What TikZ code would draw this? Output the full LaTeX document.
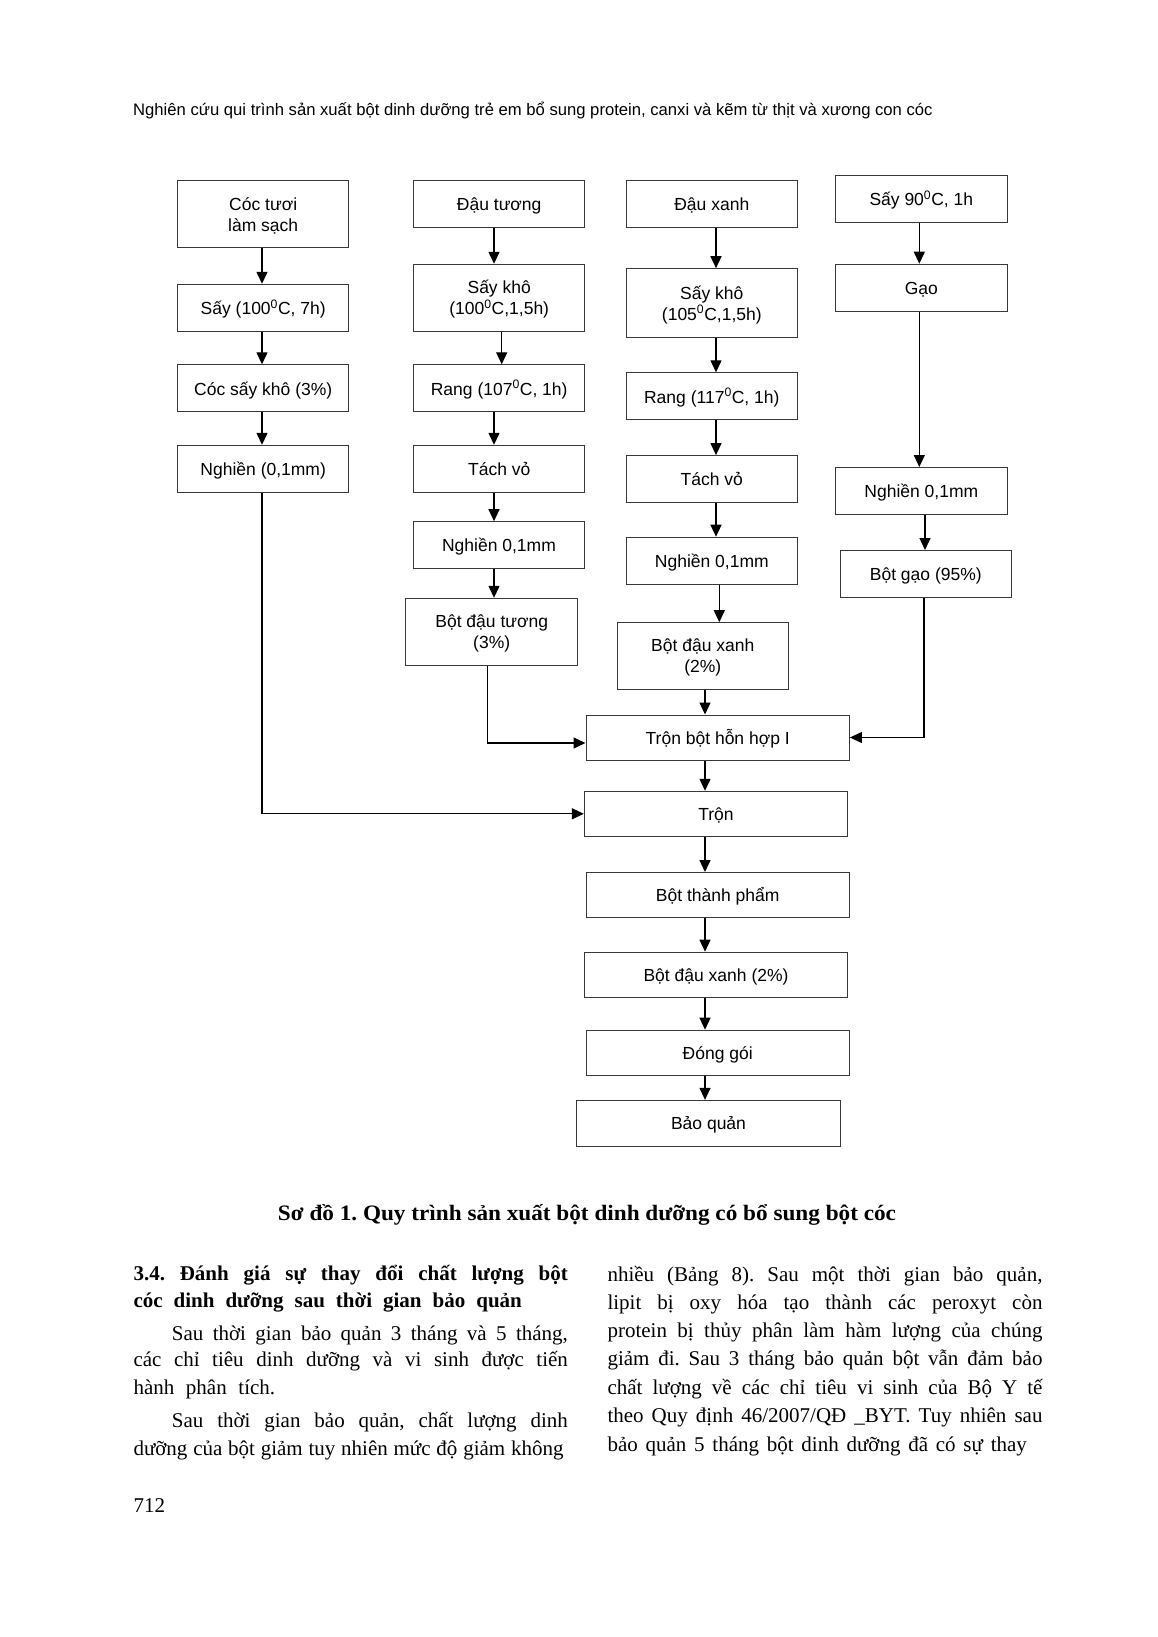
\documentclass[tikz,border=0pt]{standalone}
\usepackage{fontspec}
\setmainfont{Liberation Serif}
\newfontfamily\sansf{Liberation Sans}
\newfontfamily\capfont[FakeStretch=1.055]{Liberation Serif}
\usetikzlibrary{arrows.meta,calc}
\newcommand\degz{\textsuperscript{0}}
\newcommand\twoline[2]{\raisebox{-2.2pt}[\height][\depth]{\begin{tabular}{@{}c@{}}#1\\#2\end{tabular}}}
\tikzset{
  boxbase/.style={draw=black!78, line width=1pt, font=\sansf\fontsize{17.5}{21}\selectfont,
    inner sep=0pt, minimum width=171.5pt, minimum height=47pt},
  fbox/.style={boxbase, text height=16.5pt, text depth=3pt},
  fboxtwo/.style={boxbase},
  wbox/.style={fbox, minimum width=263.4pt, minimum height=45pt},
  arr/.style={draw=black, line width=1.3pt, -{Triangle[length=12pt,width=11pt]}},
  body/.style={anchor=base west, inner sep=0pt, font=\fontsize{21}{26}\selectfont},
  bodyb/.style={body, font=\bfseries\fontsize{21}{26}\selectfont},
}
\begin{document}
\frenchspacing
\begin{tikzpicture}[x=1pt,y=-1pt]
\useasboundingbox (0,0) rectangle (1157,1637);
\fill[white] (0,0) rectangle (1157,1637);

% header
\node[anchor=base west, inner sep=0pt, font=\sansf\fontsize{16.65}{19}\selectfont] (hdr) at (133,116)
  {Nghiên cứu qui trình sản xuất bột dinh dưỡng trẻ em bổ sung protein, canxi và kẽm từ thịt và xương con cóc};

% column 1
\node[fboxtwo, minimum height=67.3pt] (c1a) at (263.2,214.3) {\twoline{Cóc tươi}{làm sạch}};
\node[fbox] (c1b) at (263.2,307.8) {Sấy (100\degz C, 7h)};
\node[fbox] (c1c) at (263.2,388.3) {Cóc sấy khô (3\%)};
\node[fbox] (c1d) at (263.2,468.8) {Nghiền (0,1mm)};

% column 2
\node[fbox] (c2a) at (499.2,204) {Đậu tương};
\node[fboxtwo, minimum height=67pt] (c2b) at (499.2,297.8) {\twoline{Sấy khô}{(100\degz C,1,5h)}};
\node[fbox] (c2c) at (499.2,388.3) {Rang (107\degz C, 1h)};
\node[fbox] (c2d) at (499.2,468.8) {Tách vỏ};
\node[fbox] (c2e) at (499,545.2) {Nghiền 0,1mm};
\node[fboxtwo, minimum height=67pt] (c2f) at (491.7,631.8) {\twoline{Bột đậu tương}{(3\%)}};

% column 3
\node[fbox] (c3a) at (711.8,204) {Đậu xanh};
\node[fboxtwo, minimum height=69pt] (c3b) at (711.8,303.2) {\twoline{Sấy khô}{(105\degz C,1,5h)}};
\node[fbox] (c3c) at (711.8,396.3) {Rang (117\degz C, 1h)};
\node[fbox] (c3d) at (711.8,479.1) {Tách vỏ};
\node[fbox] (c3e) at (711.8,560.7) {Nghiền 0,1mm};
\node[fboxtwo, minimum height=66.6pt] (c3f) at (702.8,656) {\twoline{Bột đậu xanh}{(2\%)}};

% column 4
\node[fbox] (c4a) at (921.3,198.7) {Sấy 90\degz C, 1h};
\node[fbox] (c4b) at (921.3,287.7) {Gạo};
\node[fbox] (c4c) at (921.3,491) {Nghiền 0,1mm};
\node[fbox] (c4d) at (925.8,574) {Bột gạo (95\%)};

% main column
\node[wbox] (hh) at (717.7,737.5) {Trộn bột hỗn hợp I};
\node[wbox] (tron) at (716,813.8) {Trộn};
\node[wbox] (btp) at (717.7,895) {Bột thành phẩm};
\node[wbox] (bdx) at (716,974.7) {Bột đậu xanh (2\%)};
\node[wbox] (dg) at (717.7,1052.7) {Đóng gói};
\node[wbox, minimum height=45.7pt] (bq) at (708.5,1123.2) {Bảo quản};

% arrow x positions
\coordinate (X1) at (262,0);
\coordinate (X2) at (494,0);
\coordinate (X2s) at (501.7,0);
\coordinate (X2f) at (487.3,0);
\coordinate (X3) at (716,0);
\coordinate (X3f) at (719.3,0);
\coordinate (X4) at (919.3,0);
\coordinate (X4d) at (925,0);
\coordinate (X4e) at (924,0);
\coordinate (XM) at (705,0);

% column 1 arrows
\draw[arr] (c1a.south -| X1) -- (c1b.north -| X1);
\draw[arr] (c1b.south -| X1) -- (c1c.north -| X1);
\draw[arr] (c1c.south -| X1) -- (c1d.north -| X1);
\draw[arr] (c1d.south -| X1) |- (tron.west);

% column 2 arrows
\draw[arr] (c2a.south -| X2) -- (c2b.north -| X2);
\draw[arr] (c2b.south -| X2s) -- (c2c.north -| X2s);
\draw[arr] (c2c.south -| X2) -- (c2d.north -| X2);
\draw[arr] (c2d.south -| X2) -- (c2e.north -| X2);
\draw[arr] (c2e.south -| X2) -- (c2f.north -| X2);
\draw[arr] (c2f.south -| X2f) |- ($(hh.west)+(0,5.5)$);

% column 3 arrows
\draw[arr] (c3a.south -| X3) -- (c3b.north -| X3);
\draw[arr] (c3b.south -| X3) -- (c3c.north -| X3);
\draw[arr] (c3c.south -| X3) -- (c3d.north -| X3);
\draw[arr] (c3d.south -| X3) -- (c3e.north -| X3);
\draw[arr] (c3e.south -| X3f) -- (c3f.north -| X3f);
\draw[arr] (c3f.south -| XM) -- (hh.north -| XM);

% column 4 arrows
\draw[arr] (c4a.south -| X4) -- (c4b.north -| X4);
\draw[arr] (c4b.south -| X4) -- (c4c.north -| X4);
\draw[arr] (c4c.south -| X4d) -- (c4d.north -| X4d);
\draw[arr] (c4d.south -| X4e) |- (hh.east);

% main column arrows
\draw[arr] (hh.south -| XM) -- (tron.north -| XM);
\draw[arr] (tron.south -| XM) -- (btp.north -| XM);
\draw[arr] (btp.south -| XM) -- (bdx.north -| XM);
\draw[arr] (bdx.south -| XM) -- (dg.north -| XM);
\draw[arr] (dg.south -| XM) -- (bq.north -| XM);

% caption
\node[anchor=base, inner sep=0pt, font=\capfont\bfseries\fontsize{22}{26}\selectfont] (cap) at (587,1220)
  {Sơ đồ 1. Quy trình sản xuất bột dinh dưỡng có bổ sung bột cóc};

% left column text
\node[bodyb] (h1) at (133.3,1280.7) {\makebox[434.4pt][s]{3.4. Đánh giá sự thay đổi chất lượng bột}};
\node[bodyb] (h2) at (133.3,1307) {\makebox[388.4pt][s]{cóc dinh dưỡng sau thời gian bảo quản}};
\node[body] (l1) at (171.7,1340) {\makebox[396pt][s]{Sau thời gian bảo quản 3 tháng và 5 tháng,}};
\node[body] (l2) at (133.3,1366.7) {\makebox[434.4pt][s]{các chỉ tiêu dinh dưỡng và vi sinh được tiến}};
\node[body] (l3) at (133.3,1394) {\makebox[141.7pt][s]{hành phân tích.}};
\node[body] (l4) at (171.7,1427) {\makebox[396pt][s]{Sau thời gian bảo quản, chất lượng dinh}};
\node[body] (l5) at (133.3,1455) {\makebox[430pt][s]{dưỡng của bột giảm tuy nhiên mức độ giảm không}};
\node[body] (pg) at (133.3,1512) {712};

% right column text
\node[body] (r1) at (607.3,1281.5) {\makebox[435pt][s]{nhiều (Bảng 8). Sau một thời gian bảo quản,}};
\node[body] (r2) at (607.3,1309) {\makebox[435pt][s]{lipit bị oxy hóa tạo thành các peroxyt còn}};
\node[body] (r3) at (607.3,1337.5) {\makebox[435pt][s]{protein bị thủy phân làm hàm lượng của chúng}};
\node[body] (r4) at (607.3,1365.5) {\makebox[435pt][s]{giảm đi. Sau 3 tháng bảo quản bột vẫn đảm bảo}};
\node[body] (r5) at (607.3,1394) {\makebox[435pt][s]{chất lượng về các chỉ tiêu vi sinh của Bộ Y tế}};
\node[body] (r6) at (607.3,1422.5) {\makebox[435pt][s]{theo Quy định 46/2007/QĐ \_BYT. Tuy nhiên sau}};
\node[body] (r7) at (607.3,1451) {\makebox[419.4pt][s]{bảo quản 5 tháng bột dinh dưỡng đã có sự thay}};
\end{tikzpicture}
\end{document}
